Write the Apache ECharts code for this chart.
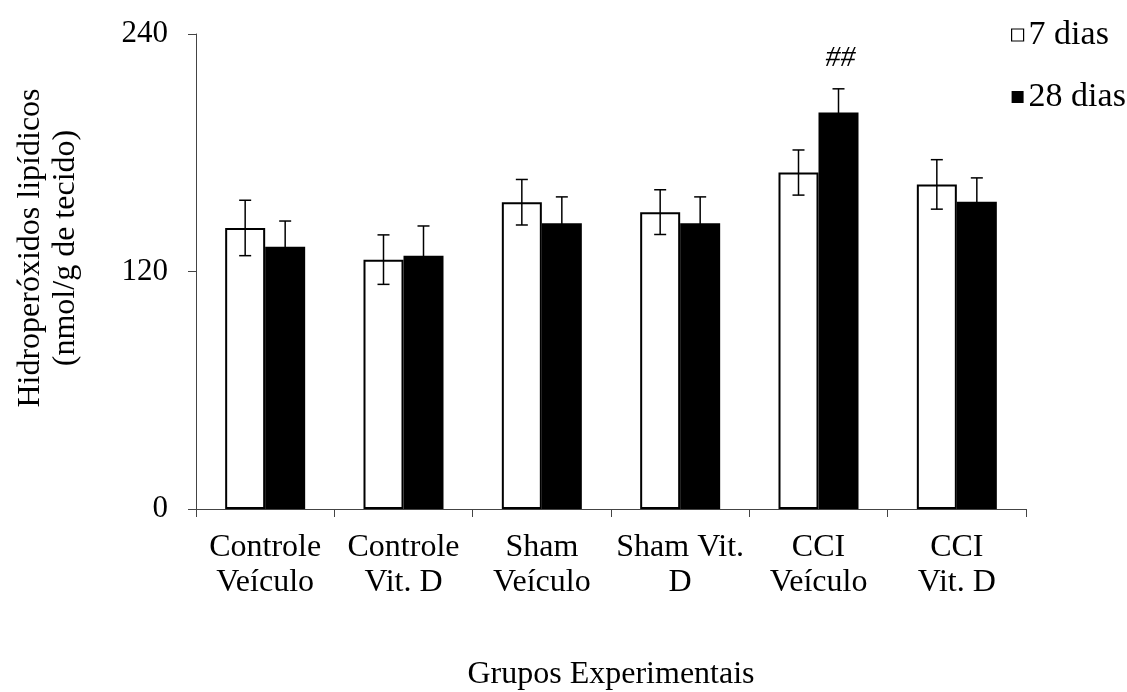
<!DOCTYPE html>
<html>
<head>
<meta charset="utf-8">
<title>Hidroperóxidos lipídicos</title>
<script src="https://cdn.jsdelivr.net/npm/echarts@6/dist/echarts.min.js"></script>
<style>
  html, body { margin: 0; padding: 0; background: #fff; }
  #chart { width: 1127px; height: 692px; }
</style>
</head>
<body>
<div id="chart"></div>
<script>
// Groups on the x axis
const categories = ['Controle\nVeículo', 'Controle\nVit. D', 'Sham\nVeículo', 'Sham Vit.\nD', 'CCI\nVeículo', 'CCI\nVit. D'];

// Means and error (SEM) per group
const dias7 = [142, 126, 155, 150, 170, 164];
const dias7Err = [14, 12.5, 11.5, 11.3, 11.4, 12.5];
const dias28 = [132.5, 128, 144.4, 144.4, 200.3, 155.3];
const dias28Err = [13, 15, 13.3, 13.3, 12, 12];

// Significance marks above the 28-day bars
const marks28 = ['', '', '', '', '##', ''];

// Y axis ticks
const yTicks = [0, 120, 240];

const FONT = '"Liberation Serif", "Times New Roman", serif';
const BAR_W = 40;

function errorRenderer(values, errs, offset, marks) {
  return function (params, api) {
    const i = params.dataIndex;
    const v = values[i], e = errs[i];
    const top = api.coord([i, v + e]);
    const bot = api.coord([i, v - e]);
    const x = top[0] + offset;
    const cap = 6;
    const style = { stroke: '#000', lineWidth: 1.5 };
    const children = [
      { type: 'line', shape: { x1: x, y1: top[1], x2: x, y2: bot[1] }, style },
      { type: 'line', shape: { x1: x - cap, y1: top[1], x2: x + cap, y2: top[1] }, style },
      { type: 'line', shape: { x1: x - cap, y1: bot[1], x2: x + cap, y2: bot[1] }, style }
    ];
    if (marks && marks[i]) {
      children.push({
        type: 'text',
        style: {
          text: marks[i], x: x + 2, y: top[1] - 16,
          fill: '#000', font: 'italic 30px ' + FONT,
          align: 'center', verticalAlign: 'bottom'
        }
      });
    }
    return { type: 'group', children };
  };
}

const chart = echarts.init(document.getElementById('chart'), null, { renderer: 'canvas' });

chart.setOption({
  backgroundColor: '#fff',
  animation: false,
  textStyle: { fontFamily: FONT, color: '#000' },
  grid: { left: 196, right: 101, top: 34, bottom: 183, outerBoundsMode: 'none', containLabel: false },
  legend: {
    orient: 'vertical',
    left: 1006,
    top: 13,
    itemWidth: 12,
    itemHeight: 12,
    itemGap: 28,
    textStyle: { fontFamily: FONT, fontSize: 34, color: '#000' },
    data: [
      { name: '7 dias', icon: 'rect', itemStyle: { color: '#fff', borderColor: '#000', borderWidth: 1.2 } },
      { name: '28 dias', icon: 'rect', itemStyle: { color: '#000', borderColor: '#000', borderWidth: 0 } }
    ]
  },
  // Y axis title, two lines, rotated
  graphic: [
    {
      type: 'text',
      x: 48,
      y: 248,
      rotation: Math.PI / 2,
      silent: true,
      style: {
        text: 'Hidroperóxidos lipídicos\n(nmol/g de tecido)',
        font: '32px ' + FONT,
        lineHeight: 35,
        fill: '#000',
        align: 'center',
        verticalAlign: 'middle'
      }
    }
  ],
  xAxis: {
    type: 'category',
    data: categories,
    name: 'Grupos Experimentais',
    nameLocation: 'middle',
    nameGap: 150,
    nameMoveOverlap: false,
    nameTextStyle: { fontFamily: FONT, fontSize: 32, color: '#000' },
    axisLine: { lineStyle: { color: '#444', width: 1 } },
    axisTick: { show: true, length: 8, lineStyle: { color: '#444' } },
    axisLabel: { interval: 0, fontFamily: FONT, fontSize: 32, color: '#000', lineHeight: 35, margin: 21 },
    splitLine: { show: false }
  },
  yAxis: {
    type: 'value',
    min: yTicks[0],
    max: yTicks[yTicks.length - 1],
    interval: yTicks[1] - yTicks[0],
    axisLine: { show: true, lineStyle: { color: '#444', width: 1 } },
    axisTick: { show: true, length: 8, lineStyle: { color: '#444' } },
    axisLabel: { fontFamily: FONT, fontSize: 31, color: '#000', margin: 28 },
    splitLine: { show: false }
  },
  series: [
    {
      name: '7 dias',
      type: 'bar',
      data: dias7,
      barWidth: BAR_W,
      barGap: '0%',
      itemStyle: { color: '#fff', borderColor: '#000', borderWidth: 2 },
      z: 2
    },
    {
      name: '28 dias',
      type: 'bar',
      data: dias28,
      barWidth: BAR_W,
      barGap: '0%',
      itemStyle: { color: '#000', borderColor: '#000', borderWidth: 0 },
      z: 2
    },
    {
      type: 'custom',
      name: 'err7',
      data: dias7.map((v, i) => [i, v]),
      renderItem: errorRenderer(dias7, dias7Err, -BAR_W / 2),
      z: 3,
      silent: true
    },
    {
      type: 'custom',
      name: 'err28',
      data: dias28.map((v, i) => [i, v]),
      renderItem: errorRenderer(dias28, dias28Err, BAR_W / 2, marks28),
      z: 3,
      silent: true
    }
  ]
});
</script>
</body>
</html>
